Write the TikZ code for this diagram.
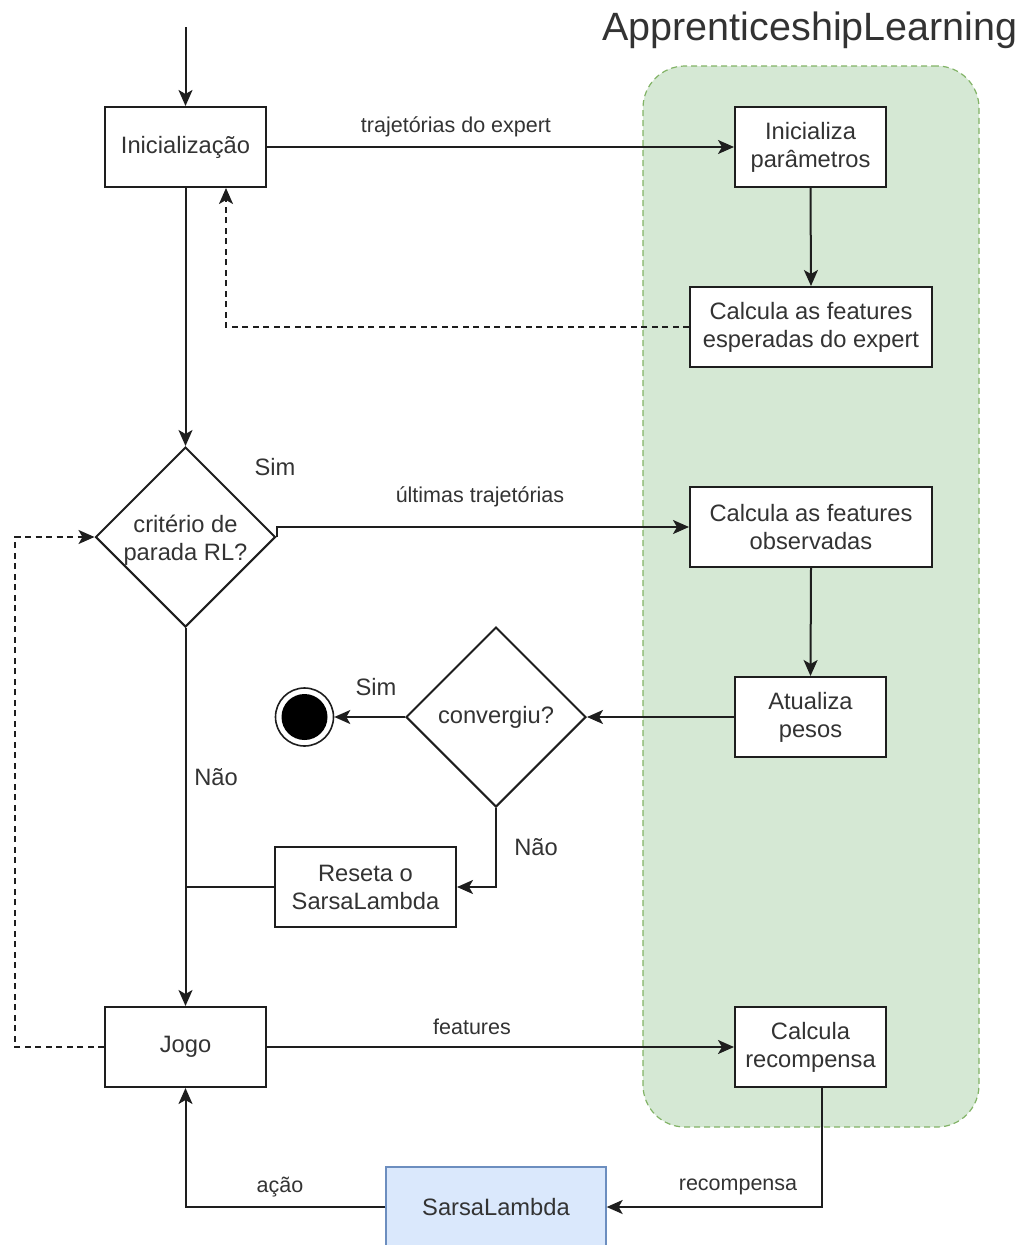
\documentclass[tikz,border=0pt]{standalone}
\usepackage{fontspec}
\setmainfont{Liberation Sans}
\usetikzlibrary{arrows.meta,shapes.geometric}
\definecolor{txt}{HTML}{333333}
\definecolor{edge}{HTML}{1E1E1E}
\definecolor{grfill}{HTML}{D5E8D4}
\definecolor{grline}{HTML}{82B366}
\definecolor{blfill}{HTML}{DAE8FC}
\definecolor{blline}{HTML}{6C8EBF}
\begin{document}
\begin{tikzpicture}[x=1pt,y=-1pt,
  every node/.style={text=txt},
  nodefont/.style={font=\fontsize{23.7}{28}\selectfont},
  labfont/.style={font=\fontsize{21.5}{25}\selectfont},
  stepbox/.style={draw=edge, line width=2pt, fill=white, inner sep=0pt,
    align=center, nodefont},
  decision/.style={diamond, draw=edge, line width=2pt, fill=white,
    minimum width=180pt, minimum height=180pt, inner sep=0pt},
  region/.style={draw=grline, fill=grfill, line width=1.2pt,
    dash pattern=on 6pt off 4pt, rounded corners=42pt, inner sep=0pt},
  lab/.style={labfont, inner sep=0pt},
  arr/.style={draw=edge, line width=2pt, -{Stealth[length=16pt,width=14pt,inset=4pt]}},
  dasharr/.style={arr, dash pattern=on 6pt off 4.5pt},
]
\useasboundingbox (0,0) rectangle (1026,1245);

% container for the apprenticeship learning loop
\node[region, minimum width=336pt, minimum height=1061pt] (al) at (811,596.5) {};
\node[font=\fontsize{39.5}{44}\selectfont, inner sep=0pt] (altitle) at (810,30) {ApprenticeshipLearning};

% main steps
\node[stepbox, minimum width=161pt, minimum height=80pt] (ini) at (185.5,147) {Inicialização};
\node[stepbox, minimum width=151pt, minimum height=80pt] (ip) at (810.5,147) {Inicializa\\parâmetros};
\node[stepbox, minimum width=242pt, minimum height=80pt] (esp) at (811,327) {Calcula as features\\esperadas do expert};
\node[decision] (crit) at (185.5,537) {};
\node[nodefont, align=center, inner sep=0pt] (crittxt) at (185.5,540) {critério de\\parada RL?};
\node[stepbox, minimum width=242pt, minimum height=80pt] (obs) at (811,527) {Calcula as features\\observadas};
\node[stepbox, minimum width=151pt, minimum height=80pt] (upd) at (810.5,717) {Atualiza\\pesos};
\node[decision] (conv) at (496,717) {};
\node[nodefont, inner sep=0pt] (convtxt) at (496,717) {convergiu?};
\node[circle, draw=edge, line width=1.6pt, fill=white, minimum size=58pt, inner sep=0pt] (fin) at (304.5,717) {};
\node[circle, fill=black, minimum size=46pt, inner sep=0pt] (findot) at (fin.center) {};
\node[stepbox, minimum width=181pt, minimum height=80pt] (reset) at (365.5,887) {Reseta o\\SarsaLambda};
\node[stepbox, minimum width=161pt, minimum height=80pt] (jogo) at (185.5,1047) {Jogo};
\node[stepbox, minimum width=151pt, minimum height=80pt] (rec) at (810.5,1047) {Calcula\\recompensa};
\node[stepbox, draw=blline, fill=blfill, line width=1.3pt, minimum width=220pt, minimum height=80pt] (sarsa) at (496,1207) {SarsaLambda};

% entry point
\coordinate (entry) at (185.5,27);

% connectors
\draw[arr] (entry) -- (ini.north);
\draw[arr] (ini.east) -- (ip.west);
\draw[arr] (ip.south) -- (esp.north);
\draw[dasharr] (esp.west) -| ([xshift=40.5pt]ini.south);
\draw[arr] (ini.south) -- (crit.north);
\draw[arr] (crit.east) |- (obs.west);
\draw[arr] (obs.south) -- (upd.north);
\draw[arr] (upd.west) -- (conv.east);
\draw[arr] (conv.west) -- (fin.east);
\draw[arr] (conv.south) |- (reset.east);
\draw[draw=edge, line width=2pt] (reset.west) -- (reset.west -| crit.south);
\draw[arr] (crit.south) -- (jogo.north);
\draw[dasharr] (jogo.west) -- (15,1047) |- (crit.west);
\draw[arr] (jogo.east) -- (rec.west);
\draw[arr] ([xshift=11.5pt]rec.south) |- (sarsa.east);
\draw[arr] (sarsa.west) -| (jogo.south);

% connector labels
\node[lab] (l1) at (456,127) {trajetórias do expert};
\node[lab] (l2) at (480,497) {últimas trajetórias};
\node[lab, nodefont] (l3) at (275,467) {Sim};
\node[lab, nodefont] (l4) at (216,777) {Não};
\node[lab, nodefont] (l5) at (376,687) {Sim};
\node[lab, nodefont] (l6) at (536,847) {Não};
\node[lab] (l7) at (472,1027) {features};
\node[lab] (l8) at (280,1187) {ação};
\node[lab] (l9) at (738,1187) {recompensa};
\end{tikzpicture}
\end{document}
